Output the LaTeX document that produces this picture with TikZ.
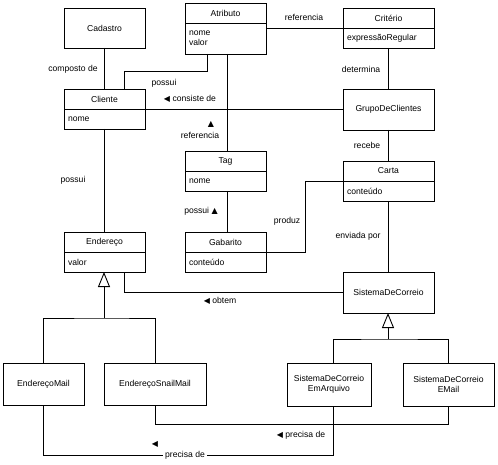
\documentclass[tikz,border=0pt]{standalone}
\usepackage{fontspec}
\setmainfont{Liberation Sans}
\newfontfamily\symf{DejaVu Sans}
\usetikzlibrary{arrows.meta}
\newcommand{\lft}{{\symf\fontsize{8}{8}\selectfont ◀}}
\newcommand{\upt}{{\symf\fontsize{8}{8}\selectfont ▲}}
\begin{document}
\begin{tikzpicture}[x=1pt,y=-1pt,line width=0.9pt,
  every node/.style={font=\fontsize{8.6}{10}\selectfont,inner sep=0pt,outer sep=0pt},
  box/.style={draw,anchor=north west,align=center},
  attr/.style={draw,anchor=north west,align=left,inner xsep=4pt},
  lbl/.style={anchor=center},
  gen/.style={-{Triangle[open,length=15pt,width=12pt,fill=white]}}]
\useasboundingbox (0,0) rectangle (498,465);
% classes
\node[box,minimum width=81,minimum height=40] (cadastro) at (64,8) {Cadastro};
\node[box,minimum width=81,minimum height=20] (atributoT) at (185,3) {Atributo};
\node[attr,minimum height=31,text width=73] (atributoA) at (185,23) {nome\\valor};
\node[box,minimum width=91,minimum height=20] (criterioT) at (343,8) {Critério};
\node[attr,minimum height=20,text width=83] (criterioA) at (343,28) {expressãoRegular};
\node[box,minimum width=81,minimum height=20] (clienteT) at (64,89) {Cliente};
\node[attr,minimum height=20,text width=73] (clienteA) at (64,109) {nome};
\node[box,minimum width=91,minimum height=41] (grupo) at (343,89) {GrupoDeClientes};
\node[box,minimum width=81,minimum height=20] (tagT) at (185,151) {Tag};
\node[attr,minimum height=20,text width=73] (tagA) at (185,171) {nome};
\node[box,minimum width=91,minimum height=20] (cartaT) at (343,161) {Carta};
\node[attr,minimum height=20,text width=83] (cartaA) at (343,181) {conteúdo};
\node[box,minimum width=81,minimum height=20] (enderecoT) at (64,232) {Endereço};
\node[attr,minimum height=20,text width=73] (enderecoA) at (64,252) {valor};
\node[box,minimum width=81,minimum height=20] (gabaritoT) at (185,232) {Gabarito};
\node[attr,minimum height=20,text width=73] (gabaritoA) at (185,252) {conteúdo};
\node[box,minimum width=91,minimum height=41] (sistema) at (343,272) {SistemaDeCorreio};
\node[box,minimum width=81,minimum height=42] (endMail) at (3,363) {EndereçoMail};
\node[box,minimum width=102,minimum height=42] (endSnail) at (104,363) {EndereçoSnailMail};
\node[box,minimum width=84,minimum height=43] (sisArq) at (287,363) {SistemaDeCorreio\\EmArquivo};
\node[box,minimum width=91,minimum height=43] (sisEmail) at (403,363) {SistemaDeCorreio\\EMail};
% associations
\draw (cadastro) -- (clienteT);
\draw ([xshift=22pt]atributoA.south west) -- ++(0,17) -| ([xshift=60pt]clienteT.north west);
\draw (clienteT.south east) -- (clienteT.south east -| grupo.west);
\draw ([xshift=42pt]atributoA.south west) -- ([xshift=42pt]tagT.north west);
\draw (criterioT.south west) -- (criterioT.south west -| atributoT.east);
\draw (criterioA) -- (grupo);
\draw (grupo) -- (cartaT);
\draw ([xshift=42pt]tagA.south west) -- ([xshift=42pt]gabaritoT.north west);
\draw (clienteA) -- (enderecoT);
\draw (gabaritoT.south east) -- ++(39,0) |- (cartaT.south west);
\draw (cartaA) -- (sistema);
\draw ([xshift=60pt]enderecoA.south west) |- (sistema.west);
% generalizations
\coordinate (g1) at (104,318);
\draw (endMail.north) |- (g1) -| (endSnail.north);
\draw[gen] (g1) -- ([xshift=40pt]enderecoA.south west);
\coordinate (g2) at (388,339);
\draw ([xshift=46pt]sisArq.north west) |- (g2) -| (sisEmail.north);
\draw[gen] (g2) -- ([xshift=45pt]sistema.south west);
% precisa de
\draw (endSnail.south) -- ++(0,19) -| (sisEmail.south);
\draw (endMail.south) -- ++(0,50) -| ([xshift=46pt]sisArq.south west);
% labels
\node[lbl] (l1) at (73,69) {composto de};
\node[lbl] (l2) at (164,83) {possui};
\node[lbl] (l3) at (190,99) {\lft\ consiste de};
\node[lbl] (l4a) at (211,124) {\upt};
\node[lbl] (l4) at (200,135) {referencia};
\node[lbl] (l5) at (304,17) {referencia};
\node[lbl] (l6) at (361,69) {determina};
\node[lbl] (l7) at (367,145) {recebe};
\node[lbl] (l8) at (201,211) {possui \upt};
\node[lbl] (l9) at (73,180) {possui};
\node[lbl] (l10) at (287,221) {produz};
\node[lbl] (l11) at (358,236) {enviada por};
\node[lbl] (l12) at (220,301) {\lft\ obtem};
\node[lbl] (l13) at (301,435) {\lft\ precisa de};
\node[lbl] (l14a) at (155,444) {\lft};
\node[lbl,fill=white,inner xsep=2pt,inner ysep=1pt] (l14) at (185,455) {precisa de};
\end{tikzpicture}
\end{document}
